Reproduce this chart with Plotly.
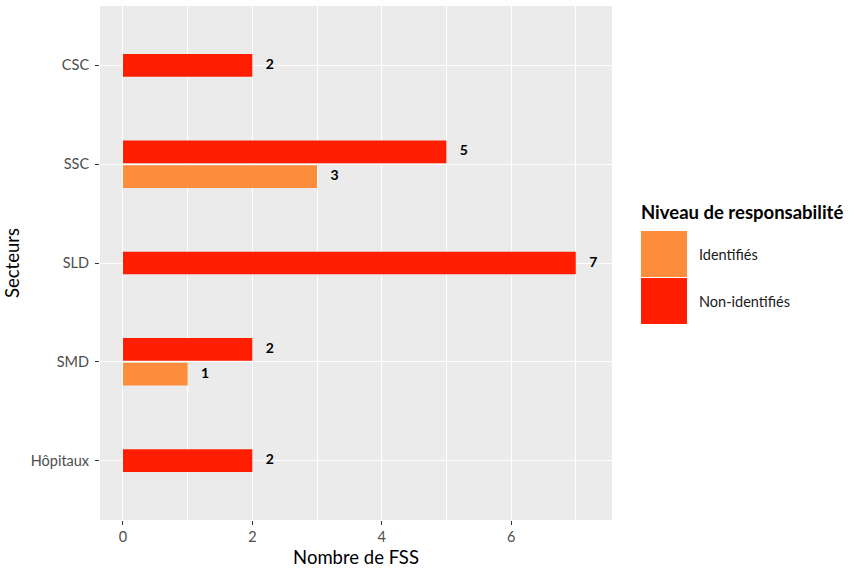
import plotly.graph_objects as go

# ---- data ----
categories = ["Hôpitaux", "SMD", "SLD", "SSC", "CSC"]   # bottom -> top
non_identifies = [2, 2, 7, 5, 2]
identifies = [None, 1, None, 3, None]
series_names = ["Identifiés", "Non-identifiés"]
colors = {"Identifiés": "#FD8D3C", "Non-identifiés": "#FF1F00"}
x_ticks = [0, 2, 4, 6]

W, H = 854, 571
ML, MR, MT, MB = 100, 242, 6, 51
PW, PH = W - ML - MR, H - MT - MB

bar_w = 0.23
dodge = 0.125
font_fam = "Lato, 'Open Sans', sans-serif"

pos = list(range(1, len(categories) + 1))
red_y, org_y = [], []
for p, a, b in zip(pos, non_identifies, identifies):
    both = a is not None and b is not None
    red_y.append(p + dodge if both else p)
    org_y.append(p - dodge if both else p)

fig = go.Figure()
fig.add_trace(go.Bar(
    x=non_identifies, y=red_y, orientation="h", width=bar_w,
    marker=dict(color=colors["Non-identifiés"], line=dict(width=0)),
    name="Non-identifiés", showlegend=False, hoverinfo="x+name"))
oy = [y for y, v in zip(org_y, identifies) if v is not None]
ov = [v for v in identifies if v is not None]
fig.add_trace(go.Bar(
    x=ov, y=oy, orientation="h", width=bar_w,
    marker=dict(color=colors["Identifiés"], line=dict(width=0)),
    name="Identifiés", showlegend=False, hoverinfo="x+name"))

# value labels
lab_x = [v + 0.27 for v in non_identifies] + [v + 0.27 for v in ov]
lab_y = red_y + oy
lab_t = [str(v) for v in non_identifies] + [str(v) for v in ov]
fig.add_trace(go.Scatter(
    x=lab_x, y=lab_y, text=lab_t, mode="text", showlegend=False,
    textfont=dict(family=font_fam, size=14, color="black", weight="bold"),
    hoverinfo="skip"))

fig.update_layout(
    width=W, height=H, barmode="overlay",
    margin=dict(l=ML, r=MR, t=MT, b=MB),
    paper_bgcolor="white", plot_bgcolor="#EBEBEB",
    font=dict(family=font_fam, color="#4D4D4D", size=15),
    showlegend=False,
    xaxis=dict(range=[-0.355, 7.56], tickvals=x_ticks, showgrid=True,
               gridcolor="white", gridwidth=1.2, zeroline=False,
               automargin=False,
               ticks="outside", ticklen=4, tickcolor="#333333",
               tickfont=dict(size=14.5, color="#4D4D4D"),
               minor=dict(dtick=2, tick0=1, showgrid=True, gridcolor="white",
                          gridwidth=0.6, ticks=""),
               title=dict(text="Nombre de FSS", font=dict(size=18.5, color="black"),
                          standoff=6)),
    yaxis=dict(range=[0.4, 5.6], tickvals=pos, ticktext=categories,
               showgrid=True, gridcolor="white", gridwidth=1.2, zeroline=False,
               automargin=False, ticklabelstandoff=3,
               ticks="outside", ticklen=4, tickcolor="#333333",
               tickfont=dict(size=14.5, color="#4D4D4D"),
               title=dict(text="Secteurs", font=dict(size=18.5, color="black"),
                          standoff=6)),
)

# manual legend (ggplot-style large keys)
def px(x):
    return (x - ML) / PW
def py(y):
    return 1 - (y - MT) / PH

fig.add_annotation(x=px(639), y=py(212), xref="paper", yref="paper",
                   text="<b>Niveau de responsabilité</b>", showarrow=False,
                   xanchor="left", yanchor="middle",
                   font=dict(size=18.5, color="black", family=font_fam))
key_top = 231
for i, name in enumerate(series_names):
    y0 = key_top + i * 47
    fig.add_shape(type="rect", xref="paper", yref="paper",
                  x0=px(641), x1=px(687), y0=py(y0), y1=py(y0 + 46),
                  fillcolor=colors[name], line=dict(width=0))
    fig.add_annotation(x=px(697), y=py(y0 + 23), xref="paper", yref="paper",
                       text=name, showarrow=False, xanchor="left",
                       yanchor="middle",
                       font=dict(size=14.5, color="#1a1a1a", family=font_fam))

fig.write_html("out.html",
               config={"displayModeBar": False},
               post_script="document.body.style.margin='0';"
                           "document.body.style.overflow='hidden';")
